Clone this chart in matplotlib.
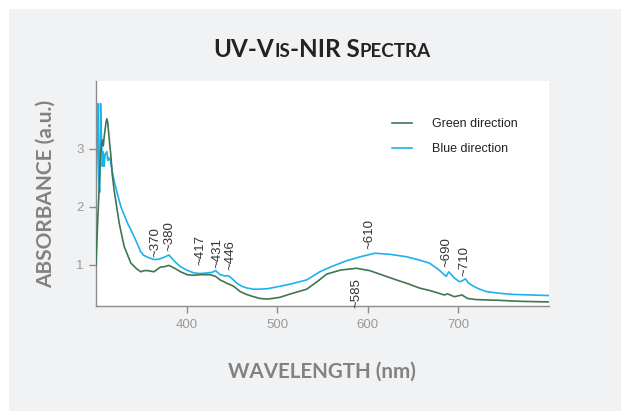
import matplotlib
matplotlib.use('Agg')
import matplotlib.pyplot as plt
from matplotlib.patches import Rectangle
from matplotlib.lines import Line2D

# ---------------- data ----------------
green_x = [300, 302, 304, 305, 306, 307, 308, 309, 311, 312, 313, 315, 316.5, 318, 320,
           323, 325.6, 331, 338.5, 345, 349.5, 353, 357, 364, 371, 376, 380.5, 387, 393.4,
           400.7, 408, 415, 426, 432, 437, 444.7, 452, 459, 466, 474, 481, 488.7, 495, 503,
           515, 532.6, 545, 554.6, 570, 587.6, 602, 615, 631.5, 645, 657, 670, 684.6, 688,
           695.6, 704, 710, 720, 741, 770, 800]
green_y = [1.0, 1.8, 2.5, 2.9, 3.05, 3.15, 3.05, 3.2, 3.45, 3.52, 3.45, 3.1, 2.87, 2.55, 2.29,
           1.98, 1.72, 1.32, 1.03, 0.93, 0.88, 0.90, 0.90, 0.88, 0.96, 0.97, 0.99, 0.94, 0.88,
           0.83, 0.82, 0.83, 0.83, 0.80, 0.74, 0.68, 0.63, 0.54, 0.49, 0.45, 0.42, 0.41, 0.42, 0.44,
           0.50, 0.58, 0.72, 0.84, 0.91, 0.94, 0.90, 0.83, 0.74, 0.67, 0.60, 0.55, 0.48, 0.50,
           0.45, 0.48, 0.42, 0.40, 0.39, 0.37, 0.36]

blue_x = [300, 301, 302, 303, 304, 305, 306, 307, 308, 309, 310, 312, 313, 314, 316, 318, 320,
          324, 327.5, 334.8, 342, 349.5, 351, 352, 357, 364, 370, 375, 380.5, 386, 393, 400,
          408, 415, 422.7, 428, 432, 437, 442, 446.5, 451, 455.7, 461, 466.7, 474, 481, 490,
          503, 515, 532.6, 547, 560, 576.6, 592, 607.7, 625, 642.5, 655, 668, 678, 686.5,
          689.3, 695, 701, 704, 707.7, 711, 715.7, 722, 730.4, 745, 759.7, 780, 800]
blue_y = [2.0, 3.2, 3.78, 2.5, 2.25, 3.78, 3.2, 2.7, 2.95, 2.7, 2.9, 2.95, 2.8, 2.85, 2.8, 2.6, 2.45,
          2.2, 2.0, 1.72, 1.49, 1.22, 1.2, 1.17, 1.13, 1.09, 1.10, 1.13, 1.17, 1.07, 0.97, 0.91,
          0.86, 0.85, 0.86, 0.87, 0.90, 0.83, 0.81, 0.81, 0.75, 0.68, 0.63, 0.60, 0.58, 0.58, 0.59,
          0.63, 0.67, 0.74, 0.88, 0.97, 1.07, 1.14, 1.20, 1.18, 1.14, 1.09, 1.03, 0.92, 0.80,
          0.88, 0.78, 0.71, 0.72, 0.76, 0.69, 0.64, 0.59, 0.54, 0.51, 0.49, 0.48, 0.47]

above_labels = ['~370', '~380', '~417', '~431', '~446', '~610', '~690', '~710']
above_x = [366, 381, 415, 433.5, 448, 602, 686.5, 706.6]
above_y = [1.14, 1.23, 1.0, 0.94, 0.91, 1.27, 0.97, 0.81]
below_labels = ['~585']
below_x = [587.6]
below_y = [0.77]

x_ticks = [400, 500, 600, 700]
y_ticks = [1, 2, 3]
series_names = ['Green direction', 'Blue direction']
green_color = '#3f7652'
blue_color = '#1cb2ec'

# ---------------- figure ----------------
W, H = 621, 411
fig = plt.figure(figsize=(W / 100, H / 100), dpi=100)
fig.patches.append(Rectangle((9 / W, 0), 1 - 9 / W, (H - 9) / H, transform=fig.transFigure,
                             facecolor='#f1f2f4', edgecolor='none', zorder=-10))

ax = fig.add_axes([96 / W, 105 / H, 453 / W, 225 / H])
ax.set_facecolor('white')
ax.plot(green_x, green_y, color=green_color, lw=1.2, zorder=3)
ax.plot(blue_x, blue_y, color=blue_color, lw=1.2, zorder=2)
ax.set_xlim(300, 800)
ax.set_ylim(0.29, 4.17)
ax.set_xticks(x_ticks)
ax.set_yticks(y_ticks)
for s in ['top', 'right']:
    ax.spines[s].set_visible(False)
for s in ['left', 'bottom']:
    ax.spines[s].set_color('#8c8c8c')
    ax.spines[s].set_linewidth(1.0)
ax.tick_params(colors='#8c8c8c', labelcolor='#9a9a9a', length=5, width=1, direction='out',
               labelsize=9.5, pad=4)
for lab in ax.get_xticklabels() + ax.get_yticklabels():
    lab.set_family('Liberation Sans')

ann_kw = dict(rotation=90, ha='center', fontsize=9.5, color='#333333', family='Liberation Sans')
for lab, x, y in zip(above_labels, above_x, above_y):
    ax.text(x, y, lab, va='bottom', **ann_kw)
for lab, x, y in zip(below_labels, below_x, below_y):
    ax.text(x, y, lab, va='top', **ann_kw)

handles = [Line2D([], [], color=green_color, lw=1.2), Line2D([], [], color=blue_color, lw=1.2)]
leg = ax.legend(handles, series_names, loc='upper left', bbox_to_anchor=(0.628, 0.885),
                frameon=False, prop={'family': 'Liberation Sans', 'size': 9},
                handlelength=1.6, handletextpad=1.6, labelspacing=1.05)
for t in leg.get_texts():
    t.set_color('#222222')

ax.set_ylabel('ABSORBANCE (a.u.)', family='Lato', weight='bold', fontsize=15, color='#828282',
              labelpad=14)
ax.set_xlabel('WAVELENGTH (nm)', family='Lato', weight='bold', fontsize=14.8, color='#828282',
              labelpad=0)
ax.xaxis.set_label_coords((322 - 96) / 453, -(362 - 306) / 225)
ax.yaxis.set_label_coords(-(96 - 56) / 453, (306 - 194) / 225)

# small-caps title
renderer = fig.canvas.get_renderer()
parts = [('UV-V', False), ('IS', True), ('-NIR S', False), ('PECTRA', True)]
big, small = 17.5, 13.5
title_texts = []
widths = []
for s, sm in parts:
    t = fig.text(0, 1 - 57 / H, s, fontsize=small if sm else big, family='Lato', weight='bold',
                 color='#222222', va='baseline', ha='left')
    title_texts.append(t)
    widths.append(t.get_window_extent(renderer).width)
total = sum(widths)
x0 = 322 - total / 2
for t, w in zip(title_texts, widths):
    t.set_x(x0 / W)
    x0 += w

fig.savefig('out.png', dpi=100)
